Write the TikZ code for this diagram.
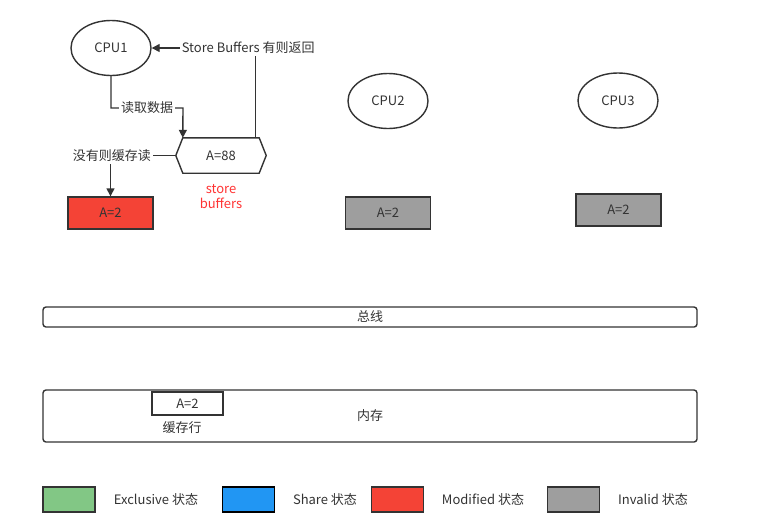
\documentclass[tikz,border=0pt]{standalone}
\usepackage{fontspec}
\setmainfont{Noto Sans CJK SC}
\usetikzlibrary{shapes.geometric,arrows.meta}
\definecolor{linec}{HTML}{333333}
\definecolor{txt}{HTML}{333333}
\definecolor{mred}{HTML}{F44336}
\definecolor{igray}{HTML}{9E9E9E}
\definecolor{egreen}{HTML}{82C785}
\definecolor{sblue}{HTML}{2196F3}
\definecolor{redtxt}{HTML}{FF3333}
\newcommand{\fs}{\fontsize{13}{15}\selectfont}
\tikzset{
  base/.style={draw=linec, line width=1.4pt, text=txt, font=\fs},
  cpu/.style={base, ellipse, minimum width=80pt, minimum height=55pt, inner sep=0pt},
  cache/.style={base, rectangle, minimum width=85pt, minimum height=32pt, inner sep=0pt},
  legbox/.style={base, rectangle, minimum width=52pt, minimum height=25pt, inner sep=0pt},
  legtxt/.style={text=txt, font=\fs, inner sep=0pt},
  lbl/.style={fill=white, text=txt, font=\fs, inner sep=2pt},
  arr/.style={draw=linec, line width=1.4pt, -{Triangle[length=8pt,width=8pt]}},
  busbox/.style={base, rectangle, rounded corners=3pt, minimum width=654pt, inner sep=0pt},
}
\begin{document}
\begin{tikzpicture}[x=1pt,y=-1pt]
\useasboundingbox (0,0) rectangle (762,528);
% CPUs
\node[cpu] (cpu1) at (111,48) {CPU1};
\node[cpu] (cpu2) at (388,101) {CPU2};
\node[cpu] (cpu3) at (618,100.5) {CPU3};
% caches
\node[cache, fill=mred] (c1) at (110.5,213) {A=2};
\node[cache, fill=igray] (c2) at (388,213) {A=2};
\node[cache, fill=igray] (c3) at (618.5,210) {A=2};
% store buffer hexagon
\node[minimum width=90pt, minimum height=35pt, inner sep=0pt, text=txt, font=\fs] (hex) at (221,155.5) {A=88};
\draw[draw=linec, line width=1.4pt] (hex.west) -- ([xshift=7pt]hex.north west) -- ([xshift=-7pt]hex.north east) -- (hex.east) -- ([xshift=-7pt]hex.south east) -- ([xshift=7pt]hex.south west) -- cycle;
\node[text=redtxt, font=\fontsize{13}{15}\selectfont, align=center, inner sep=0pt] (sbl) at (221,196.5) {store\\buffers};
\coordinate (hexin) at ([xshift=7pt]hex.north west);
\coordinate (hexout) at ([xshift=-11pt]hex.north east);
\coordinate (j1) at (183,108);
% connectors
\draw[arr] (cpu1.south) |- node[lbl, pos=0.75] {读取数据} (j1) -- (hexin);
\draw[arr] (hexout) |- node[lbl, pos=0.5, xshift=-7pt] {Store Buffers 有则返回} (cpu1.east);
\draw[arr] (hex.west) -| node[lbl, pos=0.49] {没有则缓存读} (c1.north);
% bus and memory
\node[busbox, minimum height=20pt] (bus) at (370,317) {总线};
\node[busbox, minimum height=52pt] (mem) at (370,416) {};
\node[text=txt, font=\fs, inner sep=0pt] (memlbl) at (370,416) {内存};
\node[base, rectangle, minimum width=71pt, minimum height=23pt, inner sep=0pt] (line) at (187.5,403.5) {A=2};
\node[text=txt, font=\fs, inner sep=0pt] (linelbl) at (182,428) {缓存行};
% legend
\node[legbox, fill=egreen] (lg1) at (69,499.5) {};
\node[legtxt] (lt1) at (156,500) {Exclusive 状态};
\node[legbox, fill=sblue, draw=black, line width=1.7pt] (lg2) at (248.5,499.5) {};
\node[legtxt] (lt2) at (325,500) {Share 状态};
\node[legbox, fill=mred] (lg3) at (397.5,499.5) {};
\node[legtxt] (lt3) at (483,500) {Modified 状态};
\node[legbox, fill=igray] (lg4) at (573.5,499.5) {};
\node[legtxt] (lt4) at (653,500) {Invalid 状态};
\end{tikzpicture}
\end{document}
